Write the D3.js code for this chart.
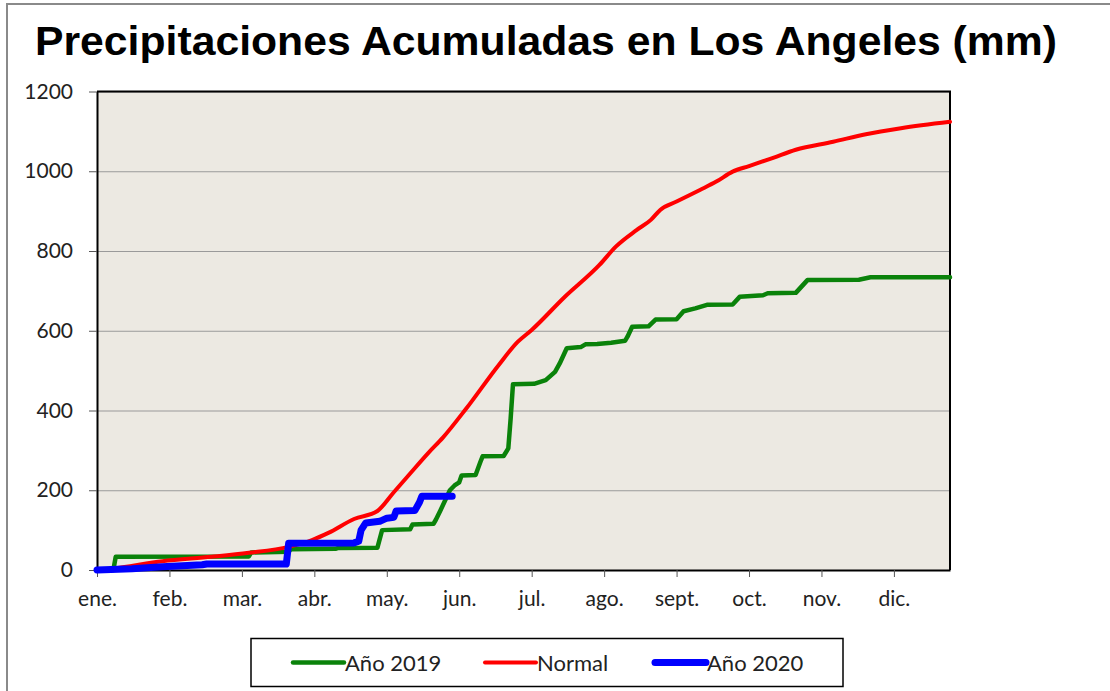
<html>
<head>
    <meta charset="UTF-8">
    <title>Precipitaciones Acumuladas</title>
    <style>
        body { margin: 0; background: #fff; }
        .tick text { font-family: Lato, "Open Sans", sans-serif; font-size: 21px; fill: #222; }
        .axis--y .domain, .axis--x .domain { stroke: #000; stroke-width: 2; }
        .axis--y .tick line, .axis--x .tick line { stroke: #555; stroke-width: 1; }
        .axis--grid .domain { stroke: none; }
        .axis--grid .tick line { stroke: #9a9a9a; stroke-width: 1.2; }
        .legend text { font-family: Lato, "Open Sans", sans-serif; font-size: 22px; fill: #222; }
    </style>
    <script src="https://d3js.org/d3.v7.min.js"></script>
</head>
<body>
<script type="text/javascript">
    // etiquetas del eje x, una cada 31 dias
    var meses = ['ene.', 'feb.', 'mar.', 'abr.', 'may.', 'jun.', 'jul.', 'ago.', 'sept.', 'oct.', 'nov.', 'dic.']
    var diasTick = [0, 31, 62, 93, 124, 155, 186, 217, 248, 279, 310, 341]
    var yTicks = [0, 200, 400, 600, 800, 1000, 1200]

    // [dia del año, mm acumulados]
    var anio2019 = [[0, 0], [7, 0], [8, 33], [65, 34], [66, 44], [82, 46], [83, 52], [102, 53], [103, 55],
        [120, 56], [122, 100], [134, 102], [135, 114], [144, 116], [145, 126], [147, 150], [151, 200],
        [153, 212], [155, 220], [156, 237], [162, 238], [164, 270], [165, 285], [174, 286], [176, 305],
        [177, 380], [178, 466], [187, 467], [192, 476], [196, 497], [198, 518], [201, 556], [207, 559],
        [209, 566], [214, 567], [220, 570], [226, 575], [227, 585], [229, 610], [236, 611], [239, 628],
        [248, 629], [251, 649], [256, 656], [261, 665], [272, 666], [275, 685], [285, 689], [287, 694],
        [299, 695], [304, 727], [326, 728], [331, 734], [365, 734]]

    var normal = [[0, 0], [6, 3], [28, 22], [49, 33], [65, 43], [82, 58], [92, 75], [99, 93], [110, 128],
        [120, 148], [127, 195], [134, 242], [142, 295], [148, 332], [158, 405], [172, 515], [180, 572],
        [186, 602], [200, 684], [215, 765], [222, 811], [231, 853], [237, 878], [241, 903], [248, 924],
        [258, 953], [265, 974], [272, 999], [279, 1013], [289, 1033], [299, 1054], [315, 1074],
        [329, 1093], [344, 1108], [365, 1124]]

    var anio2020 = [[0, 0], [15, 3], [28, 8], [45, 13], [47, 15], [81, 15], [82, 67], [110, 68], [112, 72],
        [113, 100], [115, 118], [121, 122], [124, 130], [127, 132], [128, 148], [136, 149], [138, 170],
        [139, 185], [152, 185]]

    var series = [
        { name: 'Año 2019', data: anio2019, color: '#0a820a', width: 4.5, curve: d3.curveLinear },
        { name: 'Normal', data: normal, color: '#ff0000', width: 4, curve: d3.curveMonotoneX },
        { name: 'Año 2020', data: anio2020, color: '#0000ff', width: 7, curve: d3.curveLinear }
    ]
</script>
<script type="text/javascript">
    var W = 1110, H = 691
    var plot = { left: 97, right: 950, top: 91.5, bottom: 570 }

    var svg = d3.select('body').append('svg')
        .attr('width', W)
        .attr('height', H)

    // marco exterior
    svg.append('rect')
        .attr('x', 7).attr('y', 4)
        .attr('width', W + 20).attr('height', H + 20)
        .attr('fill', '#fff')
        .attr('stroke', '#8a8a8a')
        .attr('stroke-width', 2)

    svg.append('text')
        .attr('x', 35)
        .attr('y', 55)
        .attr('textLength', 1022)
        .attr('lengthAdjust', 'spacingAndGlyphs')
        .style('font-family', '"Liberation Sans", Arial, sans-serif')
        .style('font-weight', 'bold')
        .style('font-size', '40px')
        .style('fill', '#000')
        .text('Precipitaciones Acumuladas en Los Angeles (mm)')

    var x = d3.scaleLinear().domain([0, 365]).range([plot.left, plot.right])
    var y = d3.scaleLinear().domain([0, 1200]).range([plot.bottom, plot.top])

    svg.append('rect')
        .attr('x', plot.left).attr('y', plot.top)
        .attr('width', plot.right - plot.left).attr('height', plot.bottom - plot.top)
        .attr('fill', '#ece9e2')

    svg.append('g')
        .attr('class', 'axis axis--grid')
        .attr('transform', 'translate(' + plot.left + ',0)')
        .call(d3.axisLeft(y)
            .tickValues(yTicks.slice(1))
            .tickSize(-(plot.right - plot.left))
            .tickFormat(function () { return '' }))

    // borde superior y derecho del area
    svg.append('path')
        .attr('d', 'M' + plot.left + ',' + plot.top + 'H' + plot.right + 'V' + plot.bottom)
        .attr('fill', 'none')
        .attr('stroke', '#000')
        .attr('stroke-width', 2)

    svg.append('g')
        .attr('class', 'axis axis--x')
        .attr('transform', 'translate(0,' + plot.bottom + ')')
        .call(d3.axisBottom(x)
            .tickValues(diasTick)
            .tickSize(7)
            .tickSizeOuter(0)
            .tickPadding(14)
            .tickFormat(function (d, i) { return meses[i] }))

    svg.append('g')
        .attr('class', 'axis axis--y')
        .attr('transform', 'translate(' + plot.left + ',0)')
        .call(d3.axisLeft(y)
            .tickValues(yTicks)
            .tickSize(8)
            .tickSizeOuter(0)
            .tickPadding(16)
            .tickFormat(d3.format('d')))

    svg.append('g').selectAll('path')
        .data(series)
        .enter().append('path')
        .attr('d', function (d) {
            return d3.line()
                .x(function (p) { return x(p[0]) })
                .y(function (p) { return y(p[1]) })
                .curve(d.curve)(d.data)
        })
        .attr('fill', 'none')
        .attr('stroke', function (d) { return d.color })
        .attr('stroke-width', function (d) { return d.width })
        .attr('stroke-linejoin', 'round')
        .attr('stroke-linecap', 'round')

    // leyenda
    var legend = svg.append('g').attr('class', 'legend')
    legend.append('rect')
        .attr('x', 251).attr('y', 638.5)
        .attr('width', 592).attr('height', 48)
        .attr('fill', '#fff')
        .attr('stroke', '#000')
        .attr('stroke-width', 1.5)

    var legendX = [293, 485, 655]
    var item = legend.selectAll('.item')
        .data(series)
        .enter().append('g')
        .attr('class', 'item')
        .attr('transform', function (d, i) { return 'translate(' + legendX[i] + ',662.5)' })

    item.append('line')
        .attr('x1', 0).attr('x2', 51)
        .attr('stroke', function (d) { return d.color })
        .attr('stroke-width', function (d) { return d.width })
        .attr('stroke-linecap', 'round')

    item.append('text')
        .attr('x', 52)
        .attr('y', 8)
        .text(function (d) { return d.name })
</script>
</body>
</html>
